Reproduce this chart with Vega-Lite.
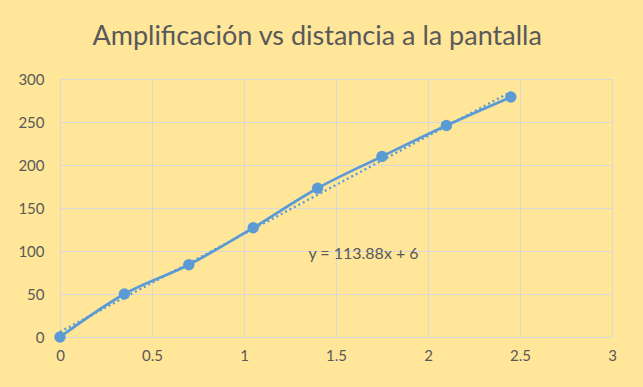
{
  "$schema": "https://vega.github.io/schema/vega-lite/v6.json",
  "width": 552,
  "height": 258,
  "autosize": {"type": "none"},
  "padding": {"left": 60, "top": 79, "right": 31, "bottom": 50},
  "background": "#FFE699",
  "title": {
    "text": "Amplificación vs distancia a la pantalla",
    "font": "Lato",
    "fontSize": 27,
    "fontWeight": "normal",
    "color": "#595959",
    "anchor": "middle",
    "frame": "bounds",
    "offset": 21
  },
  "config": {
    "view": {"stroke": null},
    "axis": {
      "labelFont": "Lato",
      "labelFontSize": 15,
      "labelColor": "#595959",
      "gridColor": "#D9D9D9",
      "gridWidth": 1,
      "domain": false,
      "ticks": false,
      "labelFlush": false,
      "format": "~r",
      "title": null
    }
  },
  "datasets": {
    "pts": [
      {"d": 0, "a": 0},
      {"d": 0.35, "a": 50},
      {"d": 0.7, "a": 84},
      {"d": 1.05, "a": 127},
      {"d": 1.4, "a": 173},
      {"d": 1.75, "a": 210},
      {"d": 2.1, "a": 246},
      {"d": 2.45, "a": 279}
    ],
    "trend": [
      {"d": 0, "a": 6},
      {"d": 2.45, "a": 285.0}
    ],
    "eq": [
      {"d": 1.35, "a": 96, "t": "y = 113.88x + 6"}
    ]
  },
  "layer": [
    {
      "data": {"name": "trend"},
      "mark": {"type": "line", "color": "#5B9BD5", "strokeWidth": 2.25, "strokeDash": [2, 3]},
      "encoding": {
        "x": {"field": "d", "type": "quantitative", "scale": {"domain": [0, 3]}, "axis": {"values": [0, 0.5, 1, 1.5, 2, 2.5, 3], "labelPadding": 11}},
        "y": {"field": "a", "type": "quantitative", "scale": {"domain": [0, 300]}, "axis": {"values": [0, 50, 100, 150, 200, 250, 300], "labelPadding": 16}}
      }
    },
    {
      "data": {"name": "pts"},
      "mark": {"type": "line", "color": "#5B9BD5", "strokeWidth": 2.75, "interpolate": "monotone"},
      "encoding": {
        "x": {"field": "d", "type": "quantitative"},
        "y": {"field": "a", "type": "quantitative"}
      }
    },
    {
      "data": {"name": "pts"},
      "mark": {"type": "point", "filled": true, "color": "#5B9BD5", "size": 130, "opacity": 1},
      "encoding": {
        "x": {"field": "d", "type": "quantitative"},
        "y": {"field": "a", "type": "quantitative"}
      }
    },
    {
      "data": {"name": "eq"},
      "mark": {"type": "text", "align": "left", "baseline": "middle", "font": "Lato", "fontSize": 16, "color": "#595959"},
      "encoding": {
        "x": {"field": "d", "type": "quantitative"},
        "y": {"field": "a", "type": "quantitative"},
        "text": {"field": "t"}
      }
    }
  ]
}
